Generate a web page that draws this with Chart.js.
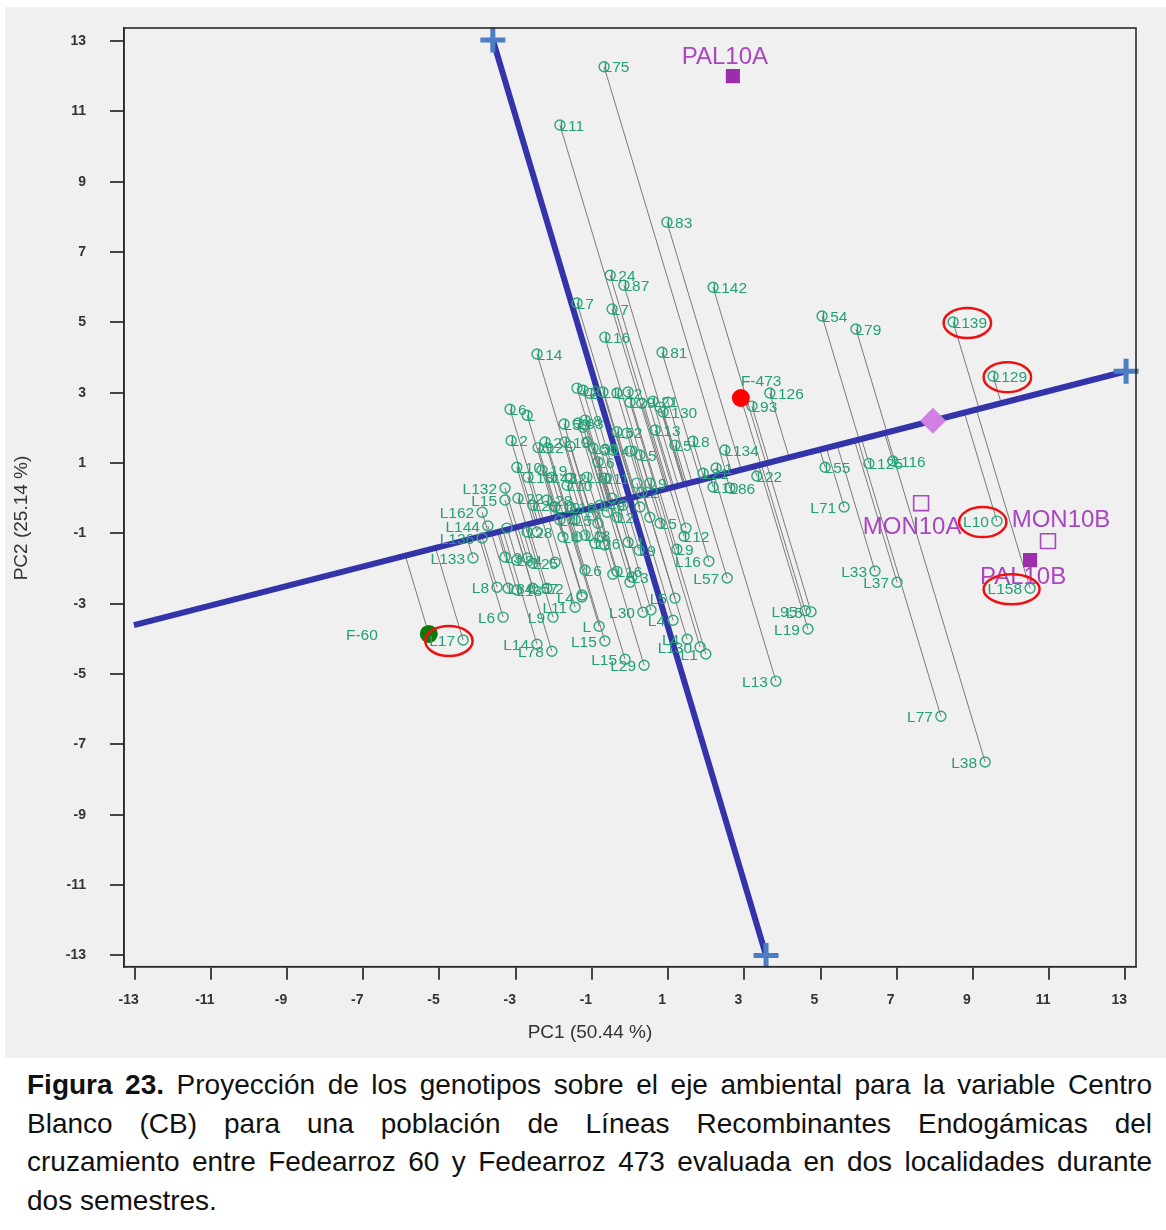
<!DOCTYPE html>
<html><head><meta charset="utf-8">
<script src="https://cdn.jsdelivr.net/npm/chart.js@4.4.1/dist/chart.umd.min.js"></script>
<style>
html,body{margin:0;padding:0;background:#fff;}
#panel{position:absolute;left:5px;top:7px;width:1161px;height:1051px;background:#f0f0f0;}
#caption{position:absolute;left:27px;top:1066px;width:1125px;font-family:"Liberation Sans",Arial,sans-serif;font-size:28px;line-height:38.5px;color:#111;}
#caption div{text-align:justify;text-align-last:justify;white-space:nowrap;}
#caption div.last{text-align-last:left;}
</style></head>
<body>
<div id="panel"><canvas id="c"></canvas></div>
<div id="caption">
<div><b>Figura 23.</b> Proyección de los genotipos sobre el eje ambiental para la variable Centro</div>
<div>Blanco (CB) para una población de Líneas Recombinantes Endogámicas del</div>
<div>cruzamiento entre Fedearroz 60 y Fedearroz 473 evaluada en dos localidades durante</div>
<div class="last">dos semestres.</div>
</div>
<script>
// ---------------- DATA ----------------
const xTicks = [-13,-11,-9,-7,-5,-3,-1,1,3,5,7,9,11,13];
const yTicks = [-13,-11,-9,-7,-5,-3,-1,1,3,5,7,9,11,13];
const xTitle = 'PC1 (50.44 %)';
const yTitle = 'PC2 (25.14 %)';

const genoNames = ['L75','L11','L83','L24','L87','L142','L7','L7','L16','L81',
 'L14','L54','L79','L139','L129','L126','L93','L134','L55','L125',
 'L116','L22','L21','L1','L10','L86','L71','L10','L33','L37',
 'L158','L95','L5','L19','L13','L77','L38','L130','L1','L4',
 'L16','L57','L30','','L4','L5','L29','L15','L15','L',
 'L14','L78','L17','L6','L9','L11','L4','L8','L84','L13',
 'L57','L2','L144','L162','L136','L133','L132','L15','L6','L',
 'L2','L12','L2','L19','','','L5','L63','L','',
 'L10','L18','L19','L43','L10','L2','L22','L20','L28','L19',
 'L16','L2','L1','L12','','L29','','L21','','',
 'L130','L8','','L52','','L13','L5','L8','','L56',
 '','L40','','L5','L6','L11','','L9','L2','L10',
 'L18','','L26','','L1','L9','','L5','','L12',
 'L9','L4','','L3','L84','','L25','','','L28',
 '','L16','','L3','','L6','','','','L2',
 '','','L49','','','L5','L4','L'];
const genoX = [-0.68,-1.84,0.97,-0.52,-0.16,2.18,-1.39,-0.47,-0.66,0.84,
 -2.44,5.04,5.93,8.48,9.53,3.67,3.20,2.49,5.12,6.27,
 6.90,3.33,1.92,2.26,2.18,2.62,5.62,9.63,6.43,7.01,
 10.50,4.60,4.75,4.67,3.83,8.16,9.32,1.84,1.99,1.50,
 2.07,2.55,0.34,0.55,1.13,1.18,0.37,-0.13,-0.66,-0.81,
 -2.44,-2.05,-4.38,-3.33,-2.02,-1.44,-1.26,-3.49,-3.20,-2.97,
 -2.55,-2.18,-3.73,-3.88,-3.88,-4.12,-3.28,-3.28,-3.15,-2.70,
 -3.12,-2.41,-2.23,-1.71,-2.15,-1.57,-1.73,-1.36,-1.39,-1.18,
 -2.97,-2.68,-2.31,-2.05,-1.65,-1.57,-2.94,-2.55,-2.18,-1.97,
 -1.57,-1.23,-0.71,-0.34,-0.05,0.00,0.31,0.60,0.79,1.00,
 0.87,-1.18,-1.23,-0.34,-0.08,0.66,1.18,1.65,-1.13,-0.97,
 -0.66,-0.45,0.00,0.26,-0.84,-0.66,0.18,0.52,0.31,-1.13,
 -1.18,-0.79,-0.92,-0.66,-0.05,0.24,0.52,0.79,1.47,1.42,
 1.23,-1.76,-1.39,-3.28,-2.97,-2.70,-2.55,-1.97,-3.23,-2.70,
 -2.44,-0.34,-0.45,0.05,0.00,-1.18,-1.26,-0.97,-0.60,-0.34,
 -0.18,-0.47,-0.79,0.26,-0.84,-1.44,-1.84,-1.05];
const genoY = [12.27,10.61,7.85,6.34,6.06,6.00,5.55,5.38,4.58,4.15,
 4.10,5.18,4.81,5.01,3.47,2.99,2.62,1.37,0.88,0.99,
 1.06,0.63,0.71,0.86,0.32,0.29,-0.25,-0.65,-2.07,-2.39,
 -2.56,-3.20,-3.23,-3.72,-5.20,-6.20,-7.50,-4.23,-4.43,-4.01,
 -1.79,-2.27,-3.24,-3.18,-3.47,-2.84,-4.75,-4.58,-4.06,-3.64,
 -4.15,-4.35,-4.03,-3.38,-3.38,-3.10,-2.81,-2.53,-2.56,-2.61,
 -2.56,-2.56,-0.79,-0.40,-1.13,-1.70,0.29,-0.05,2.53,2.36,
 1.64,1.44,1.60,1.60,1.43,1.48,2.11,2.14,3.13,2.08,
 0.88,0.60,0.80,0.60,0.37,0.57,0.00,-0.20,-0.05,-0.25,
 -0.25,3.07,3.02,2.99,3.02,2.73,2.70,2.76,2.59,2.73,
 2.45,2.22,2.02,1.89,1.85,1.94,1.51,1.62,1.60,1.43,
 1.37,1.37,1.34,1.23,1.03,0.57,0.43,0.43,0.17,0.60,
 -1.05,-1.11,-1.28,-1.33,-1.25,-1.48,-0.54,-0.71,-0.85,-1.08,
 -1.45,-1.10,-1.10,-1.67,-1.76,-1.70,-1.85,-1.82,-0.85,-0.96,
 -0.96,-2.08,-2.16,-2.24,-2.39,-2.04,-2.75,-0.48,-0.40,-0.54,
 -0.20,0.00,-0.20,-0.25,-0.71,-0.62,-0.62,2.98];

const parentNames = ['F-473','F-60'];
const parentX = [2.91,-5.28];
const parentY = [2.85,-3.86];

const envNames = ['PAL10A','MON10A','MON10B','PAL10B'];
const envX = [2.70,7.64,10.97,10.50];
const envY = [12.00,-0.14,-1.22,-1.76];
const envFilled = [true,false,false,true];

const envMeanX = [7.95];
const envMeanY = [2.20];

const aecAbscissaX = [-13.02,13.02];
const aecAbscissaY = [-3.61,3.61];
const aecOrdinateX = [-3.60,3.57];
const aecOrdinateY = [13.03,-13.00];
const aecEndX = [13.02,-3.60,3.57];
const aecEndY = [3.61,13.03,-13.00];

const circledNames = ['L139','L129','L10','L158','L17'];

// ---------------- STYLE / LAYOUT ----------------
const FONT = '"Liberation Sans", Arial, sans-serif';
const GREEN = '#2fa57e';
const GREEN_TXT = '#24a078';
const PURPLE = '#9b2fab';
const PURPLE_TXT = '#a946c0';
const BLUE = '#3333aa';
const CROSS = '#4b7ec3';
const leftLabel = new Set();
for (let i = 26; i <= 57; i++) leftLabel.add(i);
for (let i = 62; i <= 67; i++) leftLabel.add(i);
const envLabelOffsets = [[-8,-19],[-9,24],[13,-21],[-7,17]];

// projection of genotypes/parents onto the environment (abscissa) axis
const ax0 = aecAbscissaX[0], ay0 = aecAbscissaY[0];
const dx = aecAbscissaX[1]-ax0, dy = aecAbscissaY[1]-ay0;
const dd = dx*dx+dy*dy;
function proj(px,py){const t=((px-ax0)*dx+(py-ay0)*dy)/dd;return {x:ax0+t*dx,y:ay0+t*dy};}
const projData = [];
const allX = genoX.concat(parentX), allY = genoY.concat(parentY);
allX.forEach((vx,i)=>{const q=proj(vx,allY[i]);projData.push({x:vx,y:allY[i]},{x:q.x,y:q.y},{x:null,y:null});});

const circledIdx = circledNames.map(n=>{let best=-1,bd=-1;genoNames.forEach((g,i)=>{if(g===n){const d=Math.abs(genoX[i])+Math.abs(genoY[i]);if(d>bd){bd=d;best=i;}}});return best;});

const overlay = {
  id:'overlay',
  afterDatasetsDraw(chart){
    const {ctx, chartArea:a, scales:{x,y}} = chart;
    ctx.save();
    ctx.strokeStyle='#2a2a2a'; ctx.lineWidth=1.6;
    ctx.strokeRect(a.left,a.top,a.right-a.left,a.bottom-a.top);
    // genotype labels
    ctx.font = '15.5px '+FONT; ctx.fillStyle = GREEN_TXT; ctx.textBaseline='middle';
    genoNames.forEach((n,i)=>{
      if(!n) return;
      const px=x.getPixelForValue(genoX[i]), py=y.getPixelForValue(genoY[i]);
      if(leftLabel.has(i)){ctx.textAlign='right';ctx.fillText(n,px-8,py+1.5);}
      else {ctx.textAlign='left';ctx.fillText(n,px-0.5,py+1.5);}
    });
    // parents labels
    let px=x.getPixelForValue(parentX[0]), py=y.getPixelForValue(parentY[0]);
    ctx.textAlign='left'; ctx.fillText(parentNames[0],px,py-16);
    px=x.getPixelForValue(parentX[1]); py=y.getPixelForValue(parentY[1]);
    ctx.textAlign='right'; ctx.fillText(parentNames[1],px-51,py+2);
    // environment labels
    ctx.font='24px '+FONT; ctx.fillStyle=PURPLE_TXT; ctx.textAlign='center';
    envNames.forEach((n,i)=>{
      const ex=x.getPixelForValue(envX[i]), ey=y.getPixelForValue(envY[i]);
      ctx.fillText(n,ex+envLabelOffsets[i][0],ey+envLabelOffsets[i][1]);
    });
    ctx.restore();
  },
  afterDraw(chart){
    const {ctx, chartArea:a, scales:{x,y}} = chart;
    ctx.save();
    // red ellipses around selected genotypes
    ctx.font='15.5px '+FONT; ctx.strokeStyle='#ee1111'; ctx.lineWidth=2.5;
    circledIdx.forEach(i=>{
      if(i<0) return;
      const px=x.getPixelForValue(genoX[i]), py=y.getPixelForValue(genoY[i]);
      const w=ctx.measureText(genoNames[i]).width;
      let l,r;
      if(leftLabel.has(i)){l=px-8-w;r=px+5.5;} else {l=px-5.5;r=px-0.5+w;}
      ctx.beginPath();
      ctx.ellipse((l+r)/2,py+1,(r-l)/2+4,15,0,0,Math.PI*2);
      ctx.stroke();
    });
    // axis titles
    ctx.fillStyle='#333'; ctx.font='19px '+FONT; ctx.textAlign='center'; ctx.textBaseline='middle';
    ctx.fillText(xTitle,585,1026);
    ctx.translate(17,511); ctx.rotate(-Math.PI/2); ctx.fillText(yTitle,0,0);
    ctx.restore();
  }
};

const canvas = document.getElementById('c');
canvas.style.width='1161px'; canvas.style.height='1051px';

new Chart(canvas,{
  type:'scatter',
  data:{datasets:[
    {label:'parents',data:parentX.map((v,i)=>({x:v,y:parentY[i]})),pointRadius:9,pointBackgroundColor:['#ff0000','#0b7a0b'],pointBorderColor:['#ff0000','#0b7a0b'],pointBorderWidth:0,order:1},
    {label:'envs',data:envX.map((v,i)=>({x:v,y:envY[i]})),pointStyle:'rect',pointRadius:envFilled.map(f=>f?10:10.5),pointBackgroundColor:envFilled.map(f=>f?PURPLE:'rgba(0,0,0,0)'),pointBorderColor:envFilled.map(f=>f?PURPLE:PURPLE_TXT),pointBorderWidth:envFilled.map(f=>f?0:1.6),order:2},
    {label:'mean',data:envMeanX.map((v,i)=>({x:v,y:envMeanY[i]})),pointStyle:'rectRot',pointRadius:13,pointBackgroundColor:'#d27fe3',pointBorderWidth:0,order:3},
    {label:'genotypes',data:genoX.map((v,i)=>({x:v,y:genoY[i]})),pointRadius:5,pointBackgroundColor:'rgba(0,0,0,0)',pointBorderColor:GREEN,pointBorderWidth:1.4,order:4},
    {label:'ends',data:aecEndX.map((v,i)=>({x:v,y:aecEndY[i]})),pointStyle:'cross',pointRadius:12.5,pointBorderColor:CROSS,pointBorderWidth:5,clip:false,order:5},
    {label:'abscissa',data:aecAbscissaX.map((v,i)=>({x:v,y:aecAbscissaY[i]})),showLine:true,borderColor:BLUE,borderWidth:6,pointRadius:0,order:6},
    {label:'ordinate',data:aecOrdinateX.map((v,i)=>({x:v,y:aecOrdinateY[i]})),showLine:true,borderColor:BLUE,borderWidth:6,pointRadius:0,order:7},
    {label:'proj',data:projData,showLine:true,spanGaps:false,borderColor:'#7a7a7a',borderWidth:1,pointRadius:0,order:8}
  ]},
  options:{
    responsive:false, maintainAspectRatio:false, animation:false, events:[],
    layout:{padding:{top:21,right:30,left:0,bottom:0}},
    plugins:{legend:{display:false},tooltip:{enabled:false}},
    scales:{
      x:{type:'linear',min:-13.28,max:13.28,
        afterBuildTicks:s=>{s.ticks=xTicks.map(v=>({value:v}));},
        afterFit:s=>{s.height=91.3;s.paddingLeft=0;s.paddingRight=0;},
        grid:{drawOnChartArea:false,drawTicks:true,tickLength:13,color:'#444',lineWidth:2},
        border:{display:true,color:'#2a2a2a',width:1.6},
        ticks:{color:'#333',font:{family:FONT,size:14,weight:'bold'},padding:12,labelOffset:-6,autoSkip:false,maxRotation:0}},
      y:{type:'linear',min:-13.32,max:13.37,
        afterBuildTicks:s=>{s.ticks=yTicks.map(v=>({value:v}));},
        afterFit:s=>{s.width=119;s.paddingTop=0;s.paddingBottom=0;},
        grid:{drawOnChartArea:false,drawTicks:true,tickLength:14,color:'#444',lineWidth:2},
        border:{display:true,color:'#2a2a2a',width:1.6},
        ticks:{color:'#333',font:{family:FONT,size:14,weight:'bold'},padding:24,autoSkip:false}}
    }
  },
  plugins:[overlay]
});
</script>
</body></html>
